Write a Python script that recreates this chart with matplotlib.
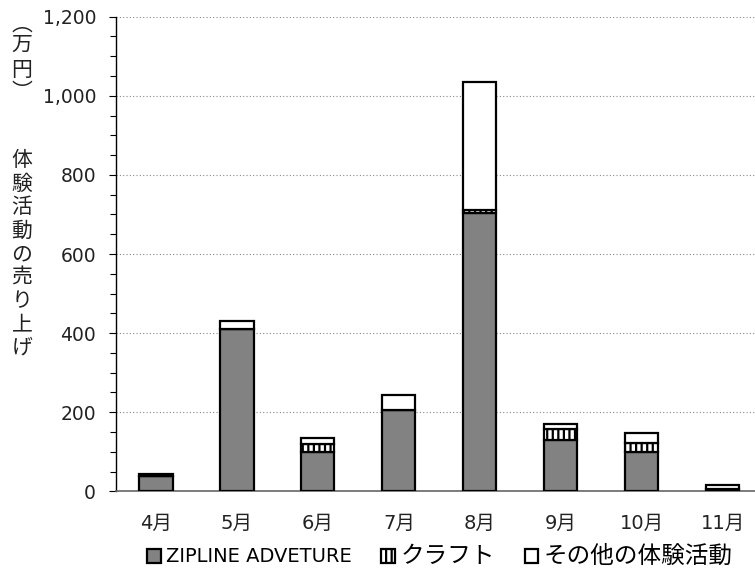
import matplotlib.pyplot as plt
from matplotlib.ticker import MultipleLocator, FuncFormatter
import numpy as np

plt.rcParams['font.family'] = ['DejaVu Sans', 'Noto Sans CJK JP']
plt.rcParams['hatch.linewidth'] = 1.6

# 月別の体験活動の売り上げ（万円）
months = ['4月', '5月', '6月', '7月', '8月', '9月', '10月', '11月']
zipline = [40, 410, 100, 205, 703, 130, 100, 2]
craft = [0, 0, 20, 0, 8, 27, 22, 4]
other = [4, 20, 15, 38, 325, 13, 26, 9]

series_names = ['ZIPLINE ADVETURE', 'クラフト', 'その他の体験活動']

fig = plt.figure(figsize=(7.55, 5.76), dpi=100)
ax = fig.add_axes([0.153, 0.147, 0.847, 0.824])

x = np.arange(len(months))
w = 0.41
zipline = np.array(zipline)
craft = np.array(craft)
other = np.array(other)

b1 = ax.bar(x, zipline, w, color='#828282', edgecolor='black', linewidth=1.6,
            label=series_names[0], zorder=3)
b2 = ax.bar(x, craft, w, bottom=zipline, color='white', edgecolor='black',
            hatch='|||', linewidth=1.6, label=series_names[1], zorder=3)
b3 = ax.bar(x, other, w, bottom=zipline + craft, color='white', edgecolor='black',
            linewidth=1.6, label=series_names[2], zorder=3)

ax.set_xlim(-0.5, 7.4)
ax.set_ylim(0, 1200)
ax.set_xticks(x)
ax.set_xticklabels(months, fontsize=14)
ax.yaxis.set_major_locator(MultipleLocator(200))
ax.yaxis.set_minor_locator(MultipleLocator(50))
ax.yaxis.set_major_formatter(FuncFormatter(lambda v, p: f'{int(v):,}'))
ax.tick_params(axis='y', labelsize=13.5, length=5, width=0.8, pad=9,
               labelcolor='#222222')
ax.tick_params(axis='y', which='minor', length=4, width=0.8)
ax.tick_params(axis='x', length=0, pad=16, labelcolor='#222222')

ax.grid(axis='y', linestyle=(0, (1, 2)), color='#888888', linewidth=0.8, zorder=0)
for s in ['top', 'right']:
    ax.spines[s].set_visible(False)
ax.spines['left'].set_linewidth(1.0)
ax.spines['bottom'].set_color('#666666')
ax.spines['bottom'].set_linewidth(1.2)

# 縦書きの軸タイトル（縦書き用の括弧は字面が端に寄るので位置をずらす）
jp = ['Noto Sans CJK JP', 'DejaVu Sans']
unit = [('︵', 25), ('万', 45), ('円', 70), ('︶', 92)]
for ch, ypx in unit:
    fig.text(22 / 755, 1 - ypx / 576, ch, fontsize=15, family=jp,
             ha='center', va='center', color='#222222')
title = '体験活動の売り上げ'
for i, ch in enumerate(title):
    fig.text(22 / 755, 1 - (160 + i * 23.5) / 576, ch, fontsize=15, family=jp,
             ha='center', va='center', color='#222222')

leg = fig.legend(handles=[b1, b2, b3], labels=series_names, loc='center',
                 bbox_to_anchor=(440 / 755, 1 - 556 / 576), ncol=3, frameon=False,
                 fontsize=14, handlelength=0.7, handleheight=0.7,
                 handletextpad=0.3, columnspacing=1.5)
for t in leg.get_texts()[1:]:
    t.set_fontsize(17)
    t.set_family(jp)

fig.savefig('out.png', dpi=100)
